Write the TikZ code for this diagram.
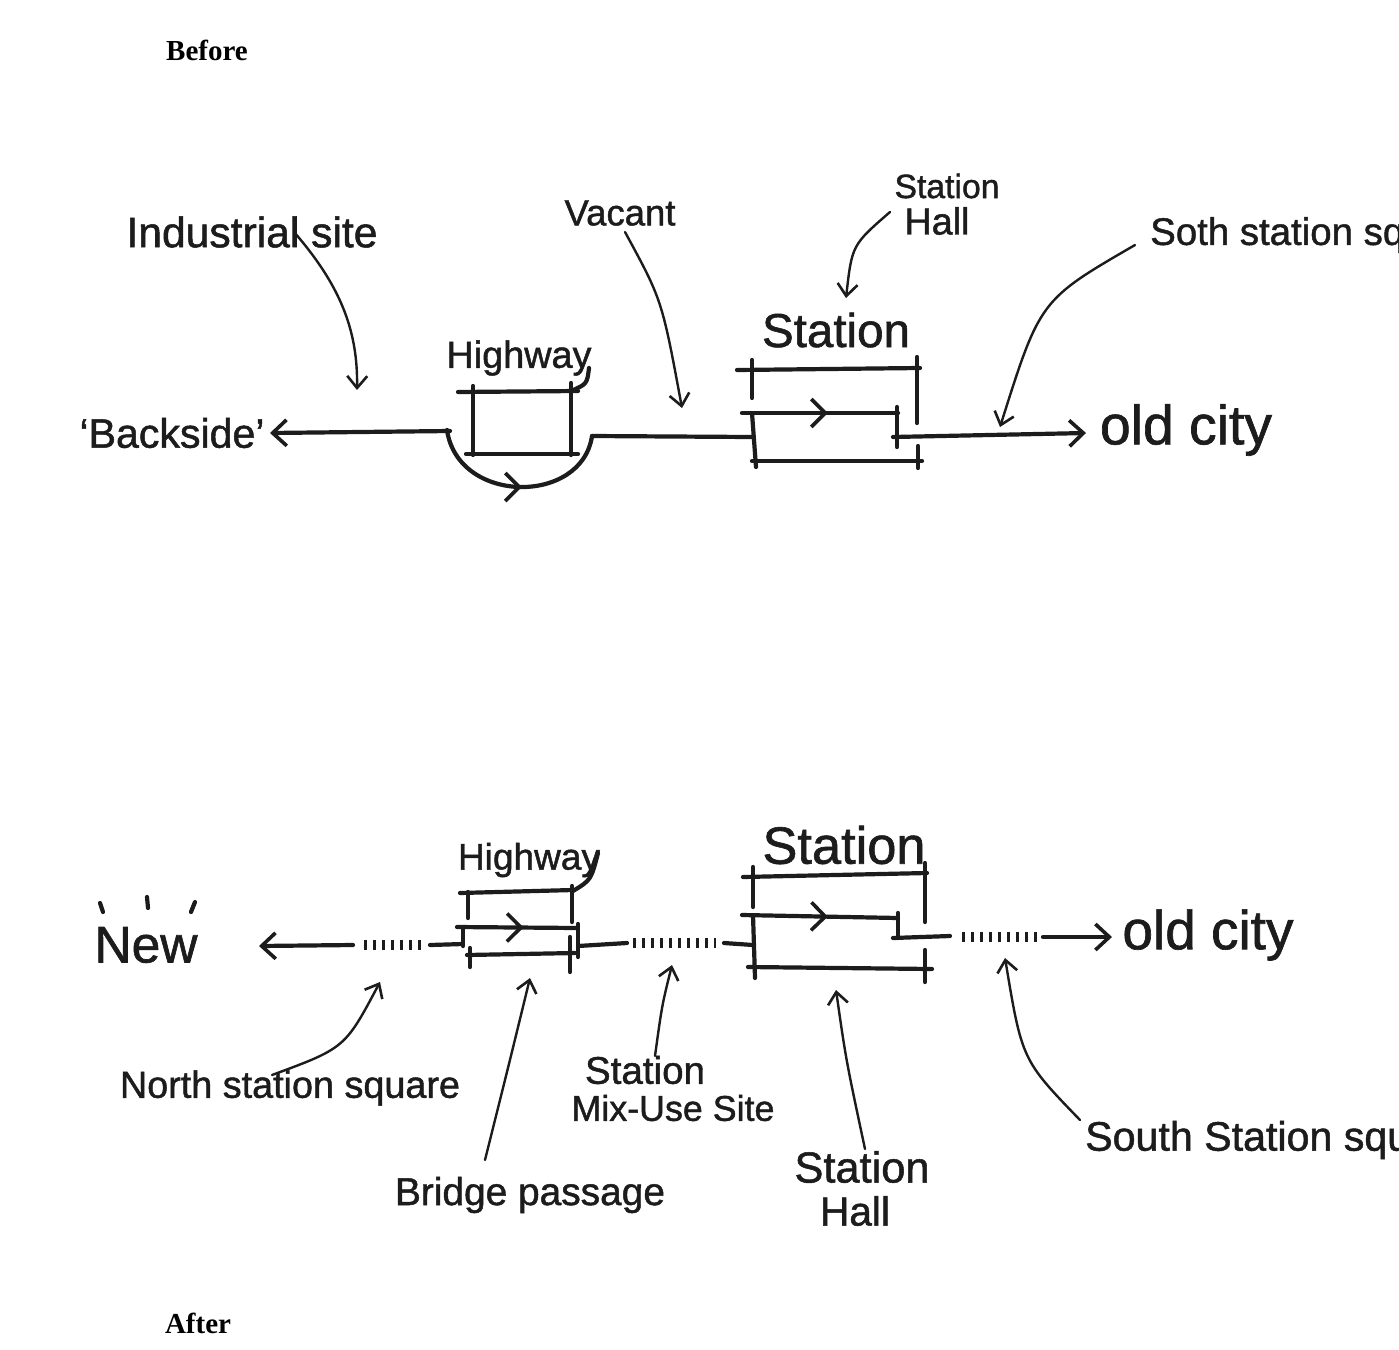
\documentclass[tikz,border=0pt]{standalone}
\usepackage{graphicx}
\usepackage{fontspec}
\setmainfont{Liberation Serif}
\newfontfamily\handfont[FakeBold=1.2]{Liberation Sans}
\usetikzlibrary{arrows.meta,decorations.markings}
\definecolor{ink}{HTML}{1C1C1C}
\newcommand{\hwt}[2]{\resizebox{#1pt}{!}{\handfont #2}}
\begin{document}
\begin{tikzpicture}[x=1pt,y=-1pt,
  stroke/.style={draw=ink, line width=4.2pt, line cap=round, line join=round},
  bigtip/.style={-{Straight Barb[length=14pt,width=26pt,line width=3.6pt]}},
  leader/.style={draw=ink, line width=2.4pt, line cap=round, -{Straight Barb[length=12pt,width=20pt,line width=2.6pt]}},
  chev/.style={postaction={decorate}, decoration={markings, mark=at position #1 with {\arrow[line width=3.6pt]{Straight Barb[length=14pt,width=28pt]}}}},
  dots/.style={draw=ink, line width=10pt, dash pattern=on 3pt off 6pt},
  lbl/.style={inner sep=0pt, text=ink},
  title/.style={inner sep=0pt, text=black, font=\fontsize{29}{34}\selectfont\bfseries}]
\useasboundingbox (0,0) rectangle (1399,1349);
\clip (0,0) rectangle (1399,1349);
\fill[white] (0,0) rectangle (1399,1349);

% ---------------- titles
\node[title] (before) at (207,50) {Before};
\node[title] (after) at (198,1323) {After};

% ---------------- BEFORE: labels
\node[lbl] (ind) at (252,232) {\hwt{251}{Industrial site}};
\node[lbl] (vac) at (620,213) {\hwt{111}{Vacant}};
\node[lbl] (shA) at (947,186) {\hwt{105}{Station}};
\node[lbl] (shB) at (937,221) {\hwt{65}{Hall}};
\node[lbl, anchor=west] (soth) at (1150,235) {\hwt{254}{Soth station sq}};
\node[lbl] (hwA) at (519,358) {\hwt{145}{Highway}};
\node[lbl] (stA) at (836,330) {\hwt{148}{Station}};
\node[lbl] (back) at (172,433) {\hwt{185}{‘Backside’}};
\node[lbl] (oldA) at (1186,430) {\hwt{172}{old city}};

% main line (before)
\coordinate (bL) at (270,433);
\coordinate (hL) at (450,431);
\coordinate (hR) at (592,436);
\coordinate (sL) at (752,437);
\coordinate (sR) at (893,437);
\coordinate (ocA) at (1086,433);
\draw[stroke,bigtip] (hL) -- (bL);
\draw[stroke,chev=0.52] (447,430) .. controls (458,505) and (582,505) .. (hR);
\draw[stroke] (hR) -- (sL);
\draw[stroke,bigtip] (sR) -- (ocA);

% highway box (before)
\draw[stroke] (458,392) -- (578,391);
\draw[stroke] (473,386) -- (473,455);
\draw[stroke] (571,383) -- (571,455);
\draw[stroke] (466,454) -- (578,454);
\draw[stroke] (589,368) .. controls (587,384) .. (571,391);

% station box (before)
\draw[stroke] (737,370) -- (920,368);
\draw[stroke] (752,360) -- (752,398);
\draw[stroke] (917,357) -- (917,423);
\draw[stroke,chev=0.55] (742,413) -- (898,413);
\draw[stroke] (897,407) -- (897,447);
\draw[stroke] (752,413) -- (756,467);
\draw[stroke] (752,461) -- (922,461);
\draw[stroke] (918,446) -- (918,468);

% leaders (before)
\coordinate (indS) at (294,232);  \coordinate (indE) at (357,390);
\coordinate (vacS) at (625,232);  \coordinate (vacE) at (682,408);
\coordinate (shS) at (890,212);   \coordinate (shE) at (846,298);
\coordinate (sothS) at (1135,245); \coordinate (sothE) at (1000,427);
\draw[leader] (indS) .. controls (340,285) and (358,330) .. (indE);
\draw[leader] (vacS) .. controls (662,300) .. (vacE);
\draw[leader] (shS) .. controls (852,245) .. (shE);
\draw[leader] (sothS) .. controls (1040,300) .. (sothE);

% ---------------- AFTER: labels
\node[lbl] (new) at (146,945) {\hwt{103}{New}};
\draw[stroke] (100,903) -- (103,912);
\draw[stroke] (147,897) -- (148,908);
\draw[stroke] (195,902) -- (191,912);
\node[lbl] (hwB) at (529,860) {\hwt{142}{Highway}};
\node[lbl] (stB) at (844,845) {\hwt{163}{Station}};
\node[lbl] (oldB) at (1208,935) {\hwt{171}{old city}};
\node[lbl] (north) at (290,1088) {\hwt{340}{North station square}};
\node[lbl] (bridge) at (530,1195) {\hwt{270}{Bridge passage}};
\node[lbl] (mixA) at (645,1070) {\hwt{120}{Station}};
\node[lbl] (mixB) at (673,1108) {\hwt{203}{Mix-Use Site}};
\node[lbl] (hallA) at (862,1167) {\hwt{135}{Station}};
\node[lbl] (hallB) at (855,1211) {\hwt{70}{Hall}};
\node[lbl, anchor=west] (south) at (1085,1140) {\hwt{325}{South Station squ}};

% main line (after)
\coordinate (nA) at (259,946);
\coordinate (n1) at (353,945);
\draw[stroke,bigtip] (n1) -- (nA);
\draw[dots] (364,945) -- (426,945);
\draw[stroke] (430,945) -- (463,944);
\draw[stroke] (463,928) -- (463,946);

% highway box (after)
\draw[stroke] (460,893) -- (573,890);
\draw[stroke] (468,892) -- (468,918);
\draw[stroke] (572,886) -- (572,922);
\draw[stroke,chev=0.55] (457,927) -- (578,928);
\draw[stroke] (578,924) -- (578,957);
\draw[stroke] (467,955) -- (575,953);
\draw[stroke] (470,948) -- (470,967);
\draw[stroke] (570,937) -- (570,972);
\draw[stroke] (598,853) .. controls (591,880) .. (573,891);

\draw[stroke] (578,946) -- (627,943);
\draw[dots] (633,943) -- (716,943);
\draw[stroke] (724,943) -- (753,945);

% station box (after)
\draw[stroke] (743,877) -- (927,873);
\draw[stroke] (753,867) -- (753,907);
\draw[stroke] (925,863) -- (925,922);
\draw[stroke,chev=0.55] (742,915) -- (898,918);
\draw[stroke] (898,913) -- (898,938);
\draw[stroke] (893,938) -- (950,936);
\draw[dots] (962,937) -- (1040,937);
\coordinate (ocB) at (1112,937);
\draw[stroke,bigtip] (1043,937) -- (ocB);
\draw[stroke] (753,915) -- (755,978);
\draw[stroke] (748,967) -- (932,969);
\draw[stroke] (925,950) -- (925,982);

% leaders (after)
\coordinate (northS) at (272,1075);  \coordinate (northE) at (380,982);
\coordinate (bridgeS) at (485,1160); \coordinate (bridgeE) at (530,978);
\coordinate (mixS) at (655,1056);    \coordinate (mixE) at (672,965);
\coordinate (hallS) at (865,1149);   \coordinate (hallE) at (836,990);
\coordinate (southS) at (1080,1120); \coordinate (southE) at (1005,958);
\draw[leader] (northS) .. controls (345,1048) .. (northE);
\draw[leader] (bridgeS) .. controls (510,1060) .. (bridgeE);
\draw[leader] (mixS) .. controls (662,1005) .. (mixE);
\draw[leader] (hallS) .. controls (846,1060) .. (hallE);
\draw[leader] (southS) .. controls (1022,1060) .. (southE);
\end{tikzpicture}
\end{document}
